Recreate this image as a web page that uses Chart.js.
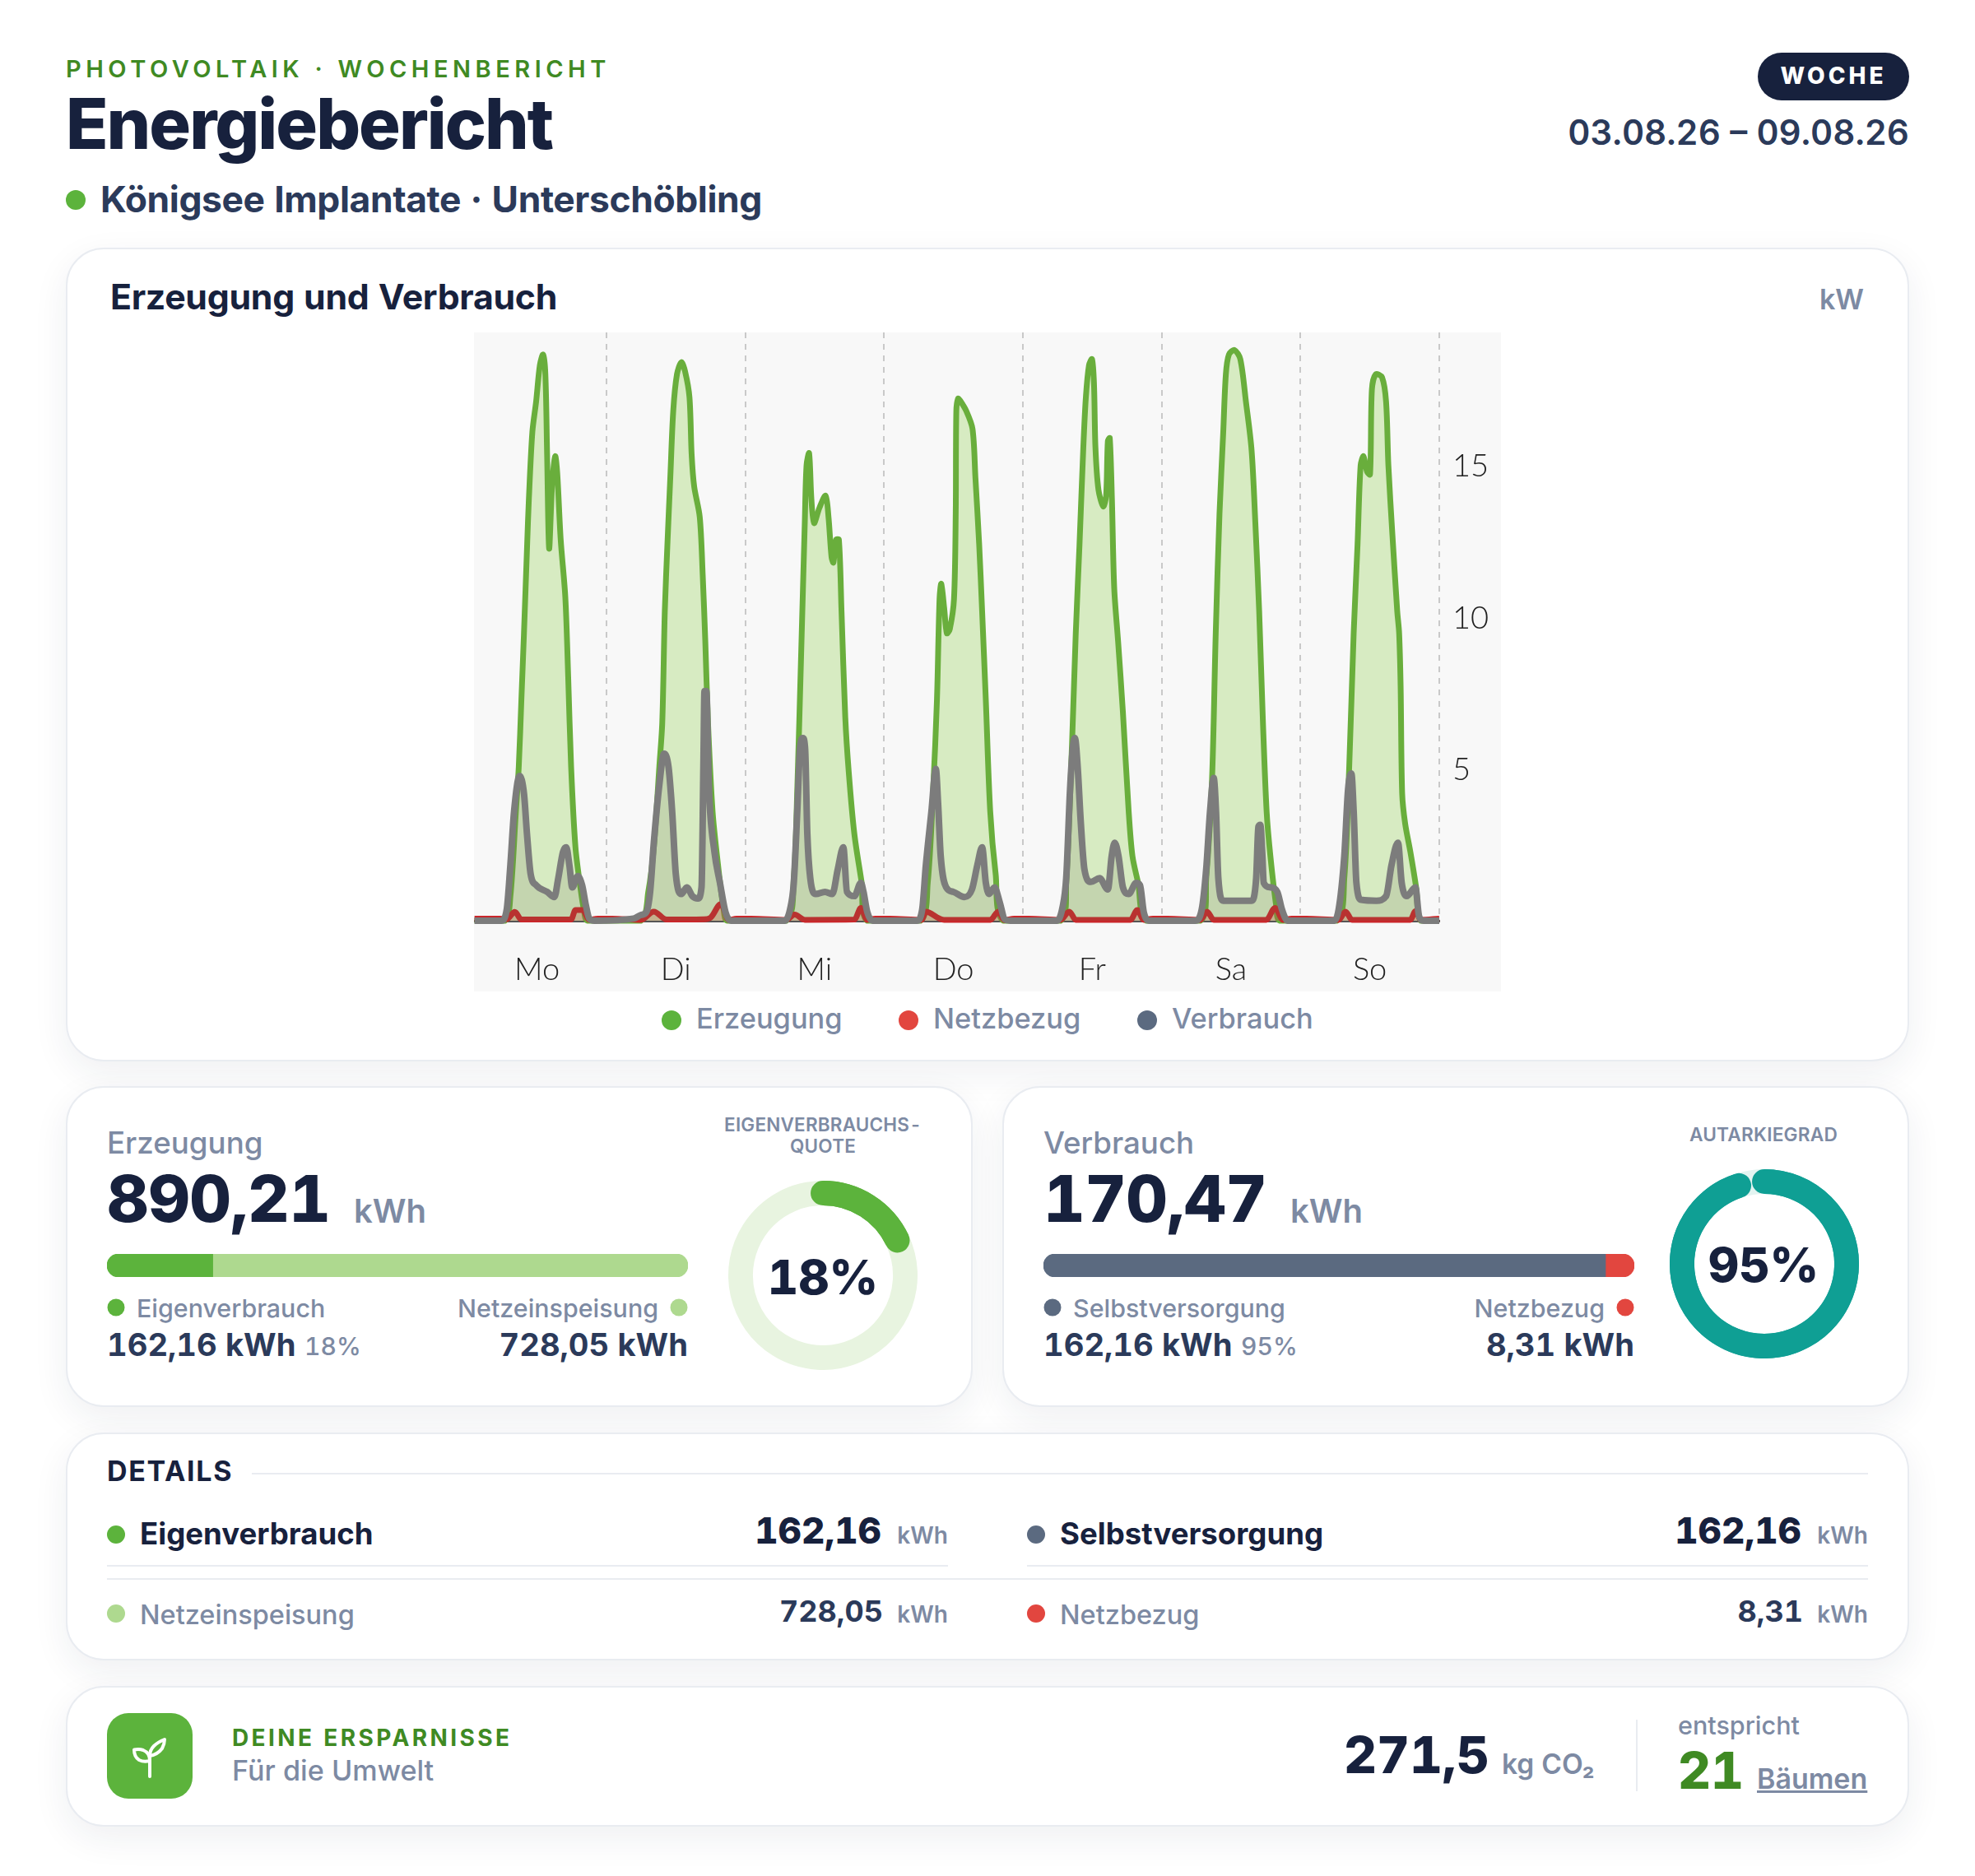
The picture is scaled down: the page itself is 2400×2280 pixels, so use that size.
<!DOCTYPE html>
<html lang="de"><head><meta charset="utf-8"><title>Energiebericht</title>
<script src="https://cdn.jsdelivr.net/npm/chart.js@4"></script>
<style>
html,body{margin:0;padding:0;background:#fff}
body{width:2400px;height:2280px;position:relative;overflow:hidden;font-family:Inter,sans-serif;color:#17213d;font-variant-numeric:tabular-nums}
.card{position:absolute;background:#fff;border:2px solid #e9ecf1;border-radius:46px;box-sizing:border-box;box-shadow:0 14px 44px rgba(30,45,70,.07)}
.t{position:absolute;white-space:nowrap;line-height:1;transform:translateY(-50%)}
.r{transform:translate(-100%,-50%)}
.c{transform:translate(-50%,-50%);text-align:center}
.g{color:#7d8aa3}.d{color:#2b3a5a}.n{color:#17213d}.gr{color:#3f8a23}
.dot{position:absolute;border-radius:50%;transform:translate(-50%,-50%)}
.ln{position:absolute;background:#e9ecf1}
canvas{position:absolute;display:block}
</style></head><body>
<div class="t gr" style="left:80px;top:83px;font-size:29px;font-weight:600;letter-spacing:5.5px">PHOTOVOLTAIK · WOCHENBERICHT</div>
<div class="t n" style="left:80px;top:150px;font-size:84.6px;font-weight:800;letter-spacing:-2px">Energiebericht</div>
<div class="dot" style="left:92px;top:243px;width:24px;height:24px;background:#5cb33c"></div>
<div class="t d" style="left:122px;top:242px;font-size:44.4px;font-weight:700;letter-spacing:-.4px">Königsee Implantate · Unterschöbling</div>
<div style="position:absolute;left:2136px;top:64px;width:184px;height:58px;border-radius:29px;background:#17213d"></div>
<div class="t c" style="left:2228px;top:92px;font-size:28px;font-weight:800;letter-spacing:4px;color:#fff">WOCHE</div>
<div class="t r d" style="left:2320px;top:161px;font-size:42px;font-weight:600">03.08.26 – 09.08.26</div>

<div class="card" style="left:80px;top:301px;width:2240px;height:989px"></div>
<div class="t n" style="left:134px;top:361px;font-size:42.8px;font-weight:700;letter-spacing:-.3px">Erzeugung und Verbrauch</div>
<div class="t r g" style="left:2265px;top:364px;font-size:34px;font-weight:600">kW</div>
<div style="position:absolute;left:576px;top:404px;width:1248px;height:801px;background:#f8f8f8"></div>
<canvas id="main" style="left:576px;top:404px"></canvas>
<div class="dot" style="left:816px;top:1240px;width:24px;height:24px;background:#5cb33c"></div>
<div class="t g" style="left:846px;top:1238px;font-size:34.4px;font-weight:500">Erzeugung</div>
<div class="dot" style="left:1104px;top:1240px;width:24px;height:24px;background:#e2463f"></div>
<div class="t g" style="left:1134px;top:1238px;font-size:34.4px;font-weight:500">Netzbezug</div>
<div class="dot" style="left:1394px;top:1240px;width:24px;height:24px;background:#5b6a80"></div>
<div class="t g" style="left:1424px;top:1238px;font-size:34.4px;font-weight:500">Verbrauch</div>

<div class="card" style="left:80px;top:1320px;width:1102px;height:390px"></div>
<div class="t g" style="left:130px;top:1389px;font-size:36.7px;font-weight:500">Erzeugung</div>
<div class="t n" style="left:130px;top:1457px;font-size:78.5px;font-weight:800;letter-spacing:-.5px">890,21</div>
<div class="t g" style="left:430px;top:1472px;font-size:40px;font-weight:600">kWh</div>
<canvas id="barL" style="left:130px;top:1524px"></canvas>
<div class="dot" style="left:141px;top:1589px;width:21px;height:21px;background:#5cb33c"></div>
<div class="t g" style="left:166px;top:1590px;font-size:30.4px;font-weight:500">Eigenverbrauch</div>
<div class="t r g" style="left:800px;top:1590px;font-size:30.4px;font-weight:500">Netzeinspeisung</div>
<div class="dot" style="left:825px;top:1589px;width:21px;height:21px;background:#aed98f"></div>
<div class="t d" style="left:130px;top:1634px;font-size:38.2px;font-weight:700">162,16 kWh</div>
<div class="t g" style="left:370px;top:1636px;font-size:30px;font-weight:500">18%</div>
<div class="t r d" style="left:836px;top:1634px;font-size:38.2px;font-weight:700">728,05 kWh</div>
<div class="t c g" style="left:1000px;top:1367px;font-size:22.5px;font-weight:600;letter-spacing:.2px">EIGENVERBRAUCHS-</div>
<div class="t c g" style="left:1000px;top:1393px;font-size:22.5px;font-weight:600;letter-spacing:.2px">QUOTE</div>
<canvas id="ringL" style="left:885px;top:1435px"></canvas>
<div class="t c n" style="left:1000px;top:1552px;font-size:58px;font-weight:800">18%</div>

<div class="card" style="left:1218px;top:1320px;width:1102px;height:390px"></div>
<div class="t g" style="left:1268px;top:1389px;font-size:36.7px;font-weight:500">Verbrauch</div>
<div class="t n" style="left:1268px;top:1457px;font-size:78.5px;font-weight:800;letter-spacing:-.5px">170,47</div>
<div class="t g" style="left:1568px;top:1472px;font-size:40px;font-weight:600">kWh</div>
<canvas id="barR" style="left:1268px;top:1524px"></canvas>
<div class="dot" style="left:1279px;top:1589px;width:21px;height:21px;background:#5b6a80"></div>
<div class="t g" style="left:1304px;top:1590px;font-size:30.4px;font-weight:500">Selbstversorgung</div>
<div class="t r g" style="left:1950px;top:1590px;font-size:30.4px;font-weight:500">Netzbezug</div>
<div class="dot" style="left:1975px;top:1589px;width:21px;height:21px;background:#e2463f"></div>
<div class="t d" style="left:1268px;top:1634px;font-size:38.2px;font-weight:700">162,16 kWh</div>
<div class="t g" style="left:1508px;top:1636px;font-size:30px;font-weight:500">95%</div>
<div class="t r d" style="left:1986px;top:1634px;font-size:38.2px;font-weight:700">8,31 kWh</div>
<div class="t c g" style="left:2143px;top:1379px;font-size:22.7px;font-weight:600;letter-spacing:.2px">AUTARKIEGRAD</div>
<canvas id="ringR" style="left:2029px;top:1421px"></canvas>
<div class="t c n" style="left:2143px;top:1537px;font-size:58px;font-weight:800">95%</div>

<div class="card" style="left:80px;top:1741px;width:2240px;height:277px"></div>
<div class="t n" style="left:130px;top:1788px;font-size:34px;font-weight:700;letter-spacing:1.7px">DETAILS</div>
<div class="ln" style="left:306px;top:1790px;width:1964px;height:2px"></div>
<div class="dot" style="left:141px;top:1865px;width:22px;height:22px;background:#5cb33c"></div>
<div class="t n" style="left:170px;top:1864px;font-size:36.6px;font-weight:700">Eigenverbrauch</div>
<div class="t r n" style="left:1071px;top:1860px;font-size:44px;font-weight:800">162,16</div>
<div class="t r g" style="left:1152px;top:1866px;font-size:28px;font-weight:600">kWh</div>
<div class="ln" style="left:130px;top:1902px;width:1022px;height:2px"></div>
<div class="ln" style="left:130px;top:1918px;width:2140px;height:2px"></div>
<div class="dot" style="left:141px;top:1961px;width:22px;height:22px;background:#aed98f"></div>
<div class="t g" style="left:170px;top:1963px;font-size:32.5px;font-weight:500">Netzeinspeisung</div>
<div class="t r d" style="left:1073px;top:1958px;font-size:36px;font-weight:700">728,05</div>
<div class="t r g" style="left:1152px;top:1962px;font-size:28px;font-weight:600">kWh</div>
<div class="dot" style="left:1259px;top:1865px;width:22px;height:22px;background:#5b6a80"></div>
<div class="t n" style="left:1288px;top:1864px;font-size:36.6px;font-weight:700">Selbstversorgung</div>
<div class="t r n" style="left:2189px;top:1860px;font-size:44px;font-weight:800">162,16</div>
<div class="t r g" style="left:2270px;top:1866px;font-size:28px;font-weight:600">kWh</div>
<div class="ln" style="left:1248px;top:1902px;width:1022px;height:2px"></div>
<div class="dot" style="left:1259px;top:1961px;width:22px;height:22px;background:#e2463f"></div>
<div class="t g" style="left:1288px;top:1963px;font-size:32.5px;font-weight:500">Netzbezug</div>
<div class="t r d" style="left:2191px;top:1958px;font-size:36px;font-weight:700">8,31</div>
<div class="t r g" style="left:2270px;top:1962px;font-size:28px;font-weight:600">kWh</div>

<div class="card" style="left:80px;top:2049px;width:2240px;height:171px"></div>
<div style="position:absolute;left:130px;top:2082px;width:104px;height:104px;border-radius:26px;background:#5cb33c"></div>
<svg style="position:absolute;left:158px;top:2110px" width="48" height="52" viewBox="0 0 48 52" fill="none" stroke="#fff" stroke-width="4" stroke-linecap="round" stroke-linejoin="round"><path d="M24 49V24"/><path d="M24 30c0-6-3-11-8-13-3-1-8-1-11-.5 0 5 2 10 6 12.500 4 2 9 2 13 1z"/><path d="M24 24c6-1 12-5 15-9 2-4 3-9 3-11-5 2-10 5-13 8-4 4-5 8-5 12z"/></svg>
<div class="t gr" style="left:282px;top:2112px;font-size:28px;font-weight:700;letter-spacing:3.4px">DEINE ERSPARNISSE</div>
<div class="t g" style="left:282px;top:2152px;font-size:34.2px;font-weight:500">Für die Umwelt</div>
<div class="t n" style="left:1633px;top:2133px;font-size:62px;font-weight:800">271,5</div>
<div class="t g" style="left:1825px;top:2145px;font-size:33.5px;font-weight:600">kg CO₂</div>
<div class="ln" style="left:1988px;top:2090px;width:2px;height:87px"></div>
<div class="t g" style="left:2039px;top:2097px;font-size:30.5px;font-weight:500">entspricht</div>
<div class="t gr" style="left:2039px;top:2152px;font-size:62px;font-weight:800">21</div>
<div class="t g" style="left:2135px;top:2162px;font-size:34px;font-weight:600;text-decoration:underline">Bäumen</div>

<script>
// Time axis, hours since Monday 00:00
const dayLabels = ['Mo','Di','Mi','Do','Fr','Sa','So'];
const yTickValues = [5,10,15];

// Erzeugung: [hour of day, kW]
const genMo = [[1.2,0],[6.45,0],[7.4,.8],[8.35,3.6],[8.85,5.07],[9.3,7.27],[9.75,9.47],[10.3,12.4],[10.6,13.9],[11.2,16.1],[11.85,17.1],[12.5,18.3],[13.05,18.65],[13.45,18],[13.75,15.35],[14.1,12.26],[14.6,14.3],[15.15,15.3],[15.5,14.75],[16.1,12.55],[16.9,10.65],[17.4,8],[17.9,5.07],[18.65,2.42],[19.5,1.1],[20.1,.37],[20.75,0]];
const genDi = [[5.97,0],[7.24,.95],[8.2,2.42],[9.15,5.07],[9.66,6.53],[10.1,10.2],[10.55,12.4],[11.05,14.6],[11.56,16.8],[12.2,18],[12.96,18.4],[13.6,18.1],[14.36,17.25],[14.74,15.35],[15.18,14.3],[16.14,13.3],[16.65,11.4],[17.1,9.2],[17.55,6.6],[18.36,3.6],[19.3,1.84],[20.27,.37],[20.9,0]];
const genMi = [[7.1,0],[8.4,1.4],[9,4.3],[9.66,8.7],[10.3,13.1],[10.6,15],[11.05,15.4],[11.44,13.9],[11.9,13.1],[12.83,13.6],[13.9,14],[14.4,13.3],[14.93,11.97],[15.25,11.8],[15.7,12.55],[16.2,12.55],[16.65,10.2],[17.3,6.7],[17.9,4.9],[18.87,2.86],[20.14,1.25],[21.1,0]];
const genDo = [[6.3,0],[7.56,1.25],[8.5,4.34],[9.15,7.27],[9.6,10.6],[9.9,11.1],[10.4,10.3],[10.86,9.47],[11.37,9.6],[12.1,10.6],[12.4,13.5],[12.5,16.8],[12.8,17.2],[13.1,17.15],[14.2,16.8],[15.3,16.2],[15.8,14.6],[16.45,12.4],[16.96,10.2],[17.6,7.27],[18.36,3.6],[19.3,1.54],[20.6,0]];
const genFr = [[6.54,0],[7.5,1.25],[8.5,5.8],[9.15,9.47],[9.8,12.4],[10.46,15.6],[10.9,17.25],[11.44,18.3],[11.96,18.5],[12.3,17.7],[12.55,15.6],[13.07,14.2],[13.9,13.65],[14.4,14],[14.7,15.8],[15.03,15.9],[15.4,13.9],[15.8,10.95],[16.47,9.2],[17.3,6.87],[18.3,3.6],[18.95,2.13],[19.93,1.25],[21.36,0]];
const genSa = [[6.73,0],[7.7,1.4],[8.7,4.6],[9.35,9.47],[10,13.4],[10.65,16.1],[11.1,18],[11.63,18.65],[12.6,18.8],[13.6,18.5],[14.57,17.1],[15.55,15.5],[16.2,13.1],[16.86,10.2],[17.5,6.6],[18.15,3.6],[18.8,2.13],[19.8,.5],[20.45,0]];
const genSo = [[6.27,0],[7.58,1.4],[8.43,5.07],[9.2,9.47],[9.87,12.4],[10.4,15],[10.9,15.3],[11.5,14.8],[12.03,14.7],[12.35,17.5],[13,18],[14.1,17.9],[14.8,17.1],[15.2,15],[15.9,12.7],[16.73,10.2],[17.06,9.47],[17.32,7.7],[17.58,4.2],[18.1,3.2],[19,2.27],[20,1.1],[20.8,0],[24,0]];

// Verbrauch: [hour of day, kW]
const useMo = [[1.2,0],[5.82,0],[6.77,.37],[7.4,1.83],[8.04,3.6],[9,4.77],[9.75,4.19],[10.27,2.86],[10.9,1.54],[11.85,1.17],[13.75,.95],[15,.78],[15.67,1.39],[16.5,2.27],[17.07,2.42],[17.6,1.83],[18.1,1.1],[19.05,1.47],[19.8,1.17],[20.45,.51],[21.05,.07],[22,0]];
const useDi = [[4.7,.07],[5.97,.19],[6.92,.29],[7.56,.95],[8.2,2.57],[9.15,4.48],[9.97,5.5],[10.74,5.07],[11.37,3.6],[12,1.54],[12.96,.88],[13.9,1.1],[14.87,.81],[15.82,.73],[16.45,1.1],[16.77,5.07],[16.96,7.56],[17.28,7.56],[17.73,4.34],[18.68,2.27],[19.63,1.25],[20.58,.29],[21.54,0]];
const useMi = [[6.8,0],[7.75,.37],[8.4,1.25],[9,3.6],[9.47,5.66],[9.97,6.02],[10.36,5.66],[10.74,2.86],[11.25,1.4],[12.2,.88],[13.8,.95],[15.06,.88],[16,1.69],[16.96,2.42],[17.6,.95],[18.87,.81],[20,1.25],[20.45,.95],[21.1,.29],[22.05,0]];
const useDo = [[5.65,0],[6.6,.37],[7.24,1.84],[8.2,3.6],[8.96,5],[9.34,3.9],[9.8,2.13],[10.74,1.1],[12,.95],[13.9,.78],[15.2,1.03],[16.14,1.84],[16.96,2.42],[17.6,1.25],[18.17,.88],[19.1,1.1],[19.93,.66],[20.9,.04],[21.85,0]];
const useFr = [[5.9,0],[6.86,.44],[7.5,1.4],[8.17,4.34],[8.7,5.8],[9,6.02],[9.48,5.07],[10,3.3],[10.65,1.69],[11.76,1.28],[13.27,1.4],[14.7,1.03],[15.36,2.13],[15.88,2.57],[16.54,2.13],[17.3,1.1],[18.3,.88],[19.6,1.25],[20.26,1.17],[20.9,.29],[21.9,0]];
const useSa = [[5.75,0],[6.93,.37],[7.7,1.69],[8.37,3.6],[9,4.7],[9.4,3.6],[9.8,1.4],[10.65,.66],[12.3,.66],[15.55,.66],[16.34,1.4],[16.73,3.1],[17.06,3.16],[17.4,2.2],[17.65,1.25],[18.8,1.1],[20,.95],[20.8,.37],[21.76,0]];
const useSo = [[5.6,0],[6.6,.37],[7.58,2.13],[8.24,4.34],[8.8,4.85],[9.2,3.6],[9.67,1.25],[10.5,.69],[13.14,.66],[14.8,.81],[15.75,1.84],[16.86,2.57],[17.5,1.25],[18.37,.81],[19.87,1.1],[20.5,.15],[21.3,0],[24,0]];

// Netzbezug: [hour of day, kW]
const gridMo = [[1.2,.07],[5.5,.07],[6.77,.05],[8.17,.29],[9.3,.04],[17.9,.04],[18.65,.35],[19.9,.35],[21.05,.03],[22.5,.07]];
const gridDi = [[1,.07],[5.97,.03],[8.2,.3],[10.4,.04],[16.8,.05],[18,.1],[19.8,.55],[21.2,.02],[22.5,.07]];
const gridMi = [[1,.07],[7.1,.03],[8.55,.2],[10.3,.03],[18.9,.04],[20,.42],[21.1,.03],[22.5,.07]];
const gridDo = [[1,.07],[6.5,.03],[7.24,.3],[9.5,.08],[10.4,.03],[18.4,.03],[19.75,.3],[20.8,.02],[22.5,.07]];
const gridFr = [[1,.07],[6.5,.03],[8.04,.3],[9.15,.03],[18.6,.03],[19.8,.35],[20.9,.03],[22.5,.07]];
const gridSa = [[1,.07],[6.7,.03],[7.85,.3],[9,.03],[18.1,.03],[19.6,.42],[21,.03],[22.5,.07]];
const gridSo = [[1,.07],[6.6,.03],[7.8,.3],[8.9,.03],[19,.03],[19.9,.32],[20.8,.03],[24,.07]];

// Summary figures
const eigenverbrauch = 162.16, netzeinspeisung = 728.05, selbstversorgung = 162.16, netzbezug = 8.31;
const eigenQuote = [18,82], autarkie = [95,5];

const week = days => days.flatMap((d,i) => d.map(([h,v]) => ({x:i*24+h, y:v})));
const series = (label,days,color,fill,width,order,curve) => ({label,data:week(days),borderColor:color,backgroundColor:fill,borderWidth:width,fill:'origin',pointRadius:0,borderJoinStyle:'round',borderCapStyle:'butt',order,clip:false,...curve});
const monotone = {cubicInterpolationMode:'monotone'};
const soft = {tension:.3};
Chart.defaults.animation = false;
function sizeCanvas(id,w,h){const c=document.getElementById(id);c.width=w;c.height=h;c.style.width=w+'px';c.style.height=h+'px';}
const noPad = s => {s.paddingLeft=0;s.paddingRight=0;s.paddingTop=0;s.paddingBottom=0};

sizeCanvas('main',1248,801);
new Chart(document.getElementById('main'),{
  type:'line',
  data:{datasets:[
    series('Erzeugung',[genMo,genDi,genMi,genDo,genFr,genSa,genSo],'#69ae3c','#d7ebc2',7,3,soft),
    series('Netzbezug',[gridMo,gridDi,gridMi,gridDo,gridFr,gridSa,gridSo],'#c9272a','rgba(215,90,60,.3)',7,2,monotone),
    series('Verbrauch',[useMo,useDi,useMi,useDo,useFr,useSa,useSo],'#7c7c7c','rgba(105,105,85,.17)',8,1,monotone)
  ]},
  options:{
    responsive:false,maintainAspectRatio:false,
    layout:{padding:0},
    plugins:{legend:{display:false},tooltip:{enabled:false}},
    scales:{
      x:{type:'linear',min:1.11,max:168,position:'bottom',
        afterBuildTicks:s=>{s.ticks=dayLabels.map((_,i)=>({value:12+i*24}))},
        afterFit:s=>{s.height=86;noPad(s)},
        ticks:{autoSkip:false,maxRotation:0,padding:37,color:'#222',font:{family:'Lato',size:38,weight:300},callback:v=>dayLabels[Math.round((v-12)/24)]},
        grid:{display:false,drawTicks:false},border:{display:true,color:'#555',width:3}},
      edges:{type:'linear',min:1.11,max:168,position:'bottom',
        afterBuildTicks:s=>{s.ticks=dayLabels.map((_,i)=>({value:24+i*24}))},
        afterFit:s=>{s.height=0;noPad(s)},
        ticks:{display:false},
        grid:{color:'#c9c9c9',lineWidth:2,drawTicks:false},border:{display:false,dash:[7,7]}},
      y:{type:'linear',position:'right',min:0,max:19.38,
        afterBuildTicks:s=>{s.ticks=yTickValues.map(v=>({value:v}))},
        afterFit:s=>{s.width=75;noPad(s)},
        ticks:{padding:16,labelOffset:1.5,color:'#222',font:{family:'Lato',size:38,weight:300}},
        grid:{display:false,drawTicks:false},border:{display:false}}
    }
  }
});

function bar(id,vals,colors,total){
  new Chart(document.getElementById(id),{
    type:'bar',
    data:{labels:[''],datasets:vals.map((v,i)=>({data:[v],backgroundColor:colors[i],borderSkipped:false,barPercentage:1,categoryPercentage:1,
      borderRadius:i===0?{topLeft:14,bottomLeft:14,topRight:0,bottomRight:0}:{topLeft:0,bottomLeft:0,topRight:14,bottomRight:14}}))},
    options:{indexAxis:'y',responsive:false,layout:{padding:0},plugins:{legend:{display:false},tooltip:{enabled:false}},
      scales:{x:{display:false,stacked:true,min:0,max:total},y:{display:false,stacked:true}}}
  });
}
sizeCanvas('barL',706,28);sizeCanvas('barR',718,28);
bar('barL',[eigenverbrauch,netzeinspeisung],['#5cb33c','#aed98f'],eigenverbrauch+netzeinspeisung);
bar('barR',[selbstversorgung,netzbezug],['#5b6a80','#e2463f'],selbstversorgung+netzbezug);

const roundCap = {id:'roundCap',afterDatasetsDraw(chart){
  const a = chart.getDatasetMeta(0).data[0], ctx = chart.ctx;
  ctx.save();ctx.beginPath();
  ctx.arc(a.x,a.y,(a.innerRadius+a.outerRadius)/2,a.startAngle,a.endAngle);
  ctx.lineWidth=a.outerRadius-a.innerRadius;ctx.lineCap='round';ctx.strokeStyle=chart.data.datasets[0].backgroundColor[0];ctx.stroke();ctx.restore();
}};
function ring(id,vals,colors){
  sizeCanvas(id,230,230);
  new Chart(document.getElementById(id),{
    type:'doughnut',
    data:{datasets:[{data:vals,backgroundColor:colors,borderWidth:0}]},
    options:{responsive:false,cutout:'74%',layout:{padding:0},plugins:{legend:{display:false},tooltip:{enabled:false}}},
    plugins:[roundCap]
  });
}
ring('ringL',eigenQuote,['#5cb33c','#e8f4e0']);
ring('ringR',autarkie,['#0f9f94','#e3f4f1']);
</script>
</body></html>
